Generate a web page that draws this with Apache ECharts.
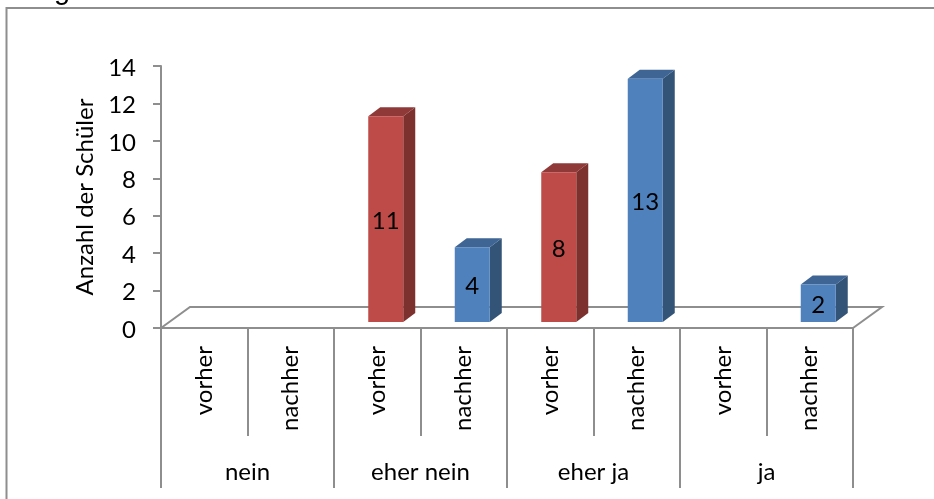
<!DOCTYPE html>
<html>
<head>
<meta charset="utf-8">
<style>html,body{margin:0;padding:0;background:#fff}#chart{width:934px;height:499px}</style>
<script src="https://cdn.jsdelivr.net/npm/echarts@6/dist/echarts.min.js"></script>
</head>
<body>
<div id="chart"></div>
<script>
// Schülerantworten vor und nach der Einheit
const phases = ['vorher', 'nachher', 'vorher', 'nachher', 'vorher', 'nachher', 'vorher', 'nachher'];
const groups = ['nein', 'eher nein', 'eher ja', 'ja'];
const counts = [0, 0, 11, 4, 8, 13, 0, 2];
const yTicks = [0, 2, 4, 6, 8, 10, 12, 14];
const yTitle = 'Anzahl der Schüler';
const headingTail = 'g';
const headingMark = ',';

const FONT = 'Lato';
const FONT_SIZE = 24;
const AXIS = '#8e8e8e';
const RED = { front: '#be4b48', side: '#7d312f', top: '#8f3a38' };
const BLUE = { front: '#4f81bd', side: '#335477', top: '#3e6594' };
const DEPTH_X = 12, DEPTH_Y = 9, LIFT = 6, BAR_W = 35, BAR_SHIFT = 8.5;
const FLOOR_X = 29, FLOOR_Y = 21;

const chart = echarts.init(document.getElementById('chart'), null, { renderer: 'canvas' });

// Boden der 3D-Darstellung: Parallelogramm hinter der Nulllinie
function renderFloor(params, api) {
  const a = api.coord([0, 0]);
  const size = api.size([1, 0]);
  const left = a[0] - size[0] / 2;
  const right = left + size[0] * phases.length;
  const y = a[1];
  return {
    type: 'polyline',
    shape: { points: [[left, y], [left + FLOOR_X, y - FLOOR_Y], [right + FLOOR_X, y - FLOOR_Y], [right, y]] },
    style: { fill: 'none', stroke: AXIS, lineWidth: 2 },
    silent: true
  };
}

// Quader je Balken: Vorderseite, rechte Seite, Deckel, Wert
function renderBar(params, api) {
  const i = api.value(0), v = api.value(1);
  if (!v) return { type: 'group', children: [] };
  const base = api.coord([i, 0]);
  const tip = api.coord([i, v]);
  const c = i % 2 === 0 ? RED : BLUE;
  const l = base[0] - BAR_W / 2 + BAR_SHIFT, r = l + BAR_W;
  const b = base[1] - LIFT, t = tip[1] - LIFT;
  const poly = (points, fill) => ({ type: 'polygon', shape: { points }, style: { fill } });
  return {
    type: 'group',
    children: [
      poly([[r, t], [r + DEPTH_X, t - DEPTH_Y], [r + DEPTH_X, b - DEPTH_Y], [r, b]], c.side),
      poly([[l, t], [l + DEPTH_X, t - DEPTH_Y], [r + DEPTH_X, t - DEPTH_Y], [r, t]], c.top),
      poly([[l, t], [r, t], [r, b], [l, b]], c.front),
      {
        type: 'text',
        style: {
          text: String(v), x: (l + r) / 2, y: (t + b) / 2 + 2,
          fill: '#000', font: FONT_SIZE + 'px ' + FONT, align: 'center', verticalAlign: 'middle'
        }
      }
    ]
  };
}

chart.setOption({
  animation: false,
  backgroundColor: '#fff',
  graphic: [
    { type: 'polyline', silent: true, shape: { points: [[6.5, 499], [6.5, 8], [934, 8]] },
      style: { fill: 'none', stroke: AXIS, lineWidth: 2 } },
    { type: 'text', silent: true, left: 54, top: -24,
      style: { text: headingTail, fill: '#000', font: '29px "Liberation Sans"' } },
    { type: 'text', silent: true, left: 104, top: -27,
      style: { text: headingMark, fill: '#000', font: '29px "Liberation Sans"' } }
  ],
  grid: { left: 161, right: 81, top: 66, bottom: 171 },
  yAxis: {
    type: 'value', min: 0, max: 14, interval: 2,
    name: yTitle, nameLocation: 'middle', nameGap: 64, nameRotate: 90,
    nameTextStyle: { fontFamily: FONT, fontSize: FONT_SIZE, color: '#000' },
    axisLine: { show: true, lineStyle: { color: AXIS, width: 2 } },
    axisTick: { show: true, length: 8, lineStyle: { color: AXIS, width: 2 } },
    axisLabel: {
      fontFamily: FONT, fontSize: FONT_SIZE, color: '#000', margin: 25,
      verticalAlign: 'top', lineHeight: 4,
      formatter: v => String(yTicks[yTicks.indexOf(v)])
    },
    splitLine: { show: false }
  },
  xAxis: [
    {
      type: 'category', data: phases, position: 'bottom',
      axisLine: { show: true, lineStyle: { color: AXIS, width: 2 } },
      axisTick: { show: true, length: 108, interval: 0, lineStyle: { color: AXIS, width: 2 } },
      axisLabel: {
        interval: 0, rotate: 90, fontFamily: FONT, fontSize: FONT_SIZE, color: '#000',
        margin: 18, verticalAlign: 'middle'
      }
    },
    {
      type: 'category', data: groups, position: 'bottom', offset: 108,
      axisLine: { show: false },
      axisTick: { show: true, length: 52, interval: 0, lineStyle: { color: AXIS, width: 2 } },
      axisLabel: { interval: 0, fontFamily: FONT, fontSize: FONT_SIZE, color: '#000', margin: 24 }
    }
  ],
  series: [
    { type: 'custom', xAxisIndex: 0, data: [[0, 0]], renderItem: renderFloor, silent: true, z: 1, clip: false },
    { type: 'custom', xAxisIndex: 0, data: counts.map((v, i) => [i, v]), encode: { x: 0, y: 1 },
      renderItem: renderBar, silent: true, z: 2, clip: false }
  ]
});
</script>
</body>
</html>
